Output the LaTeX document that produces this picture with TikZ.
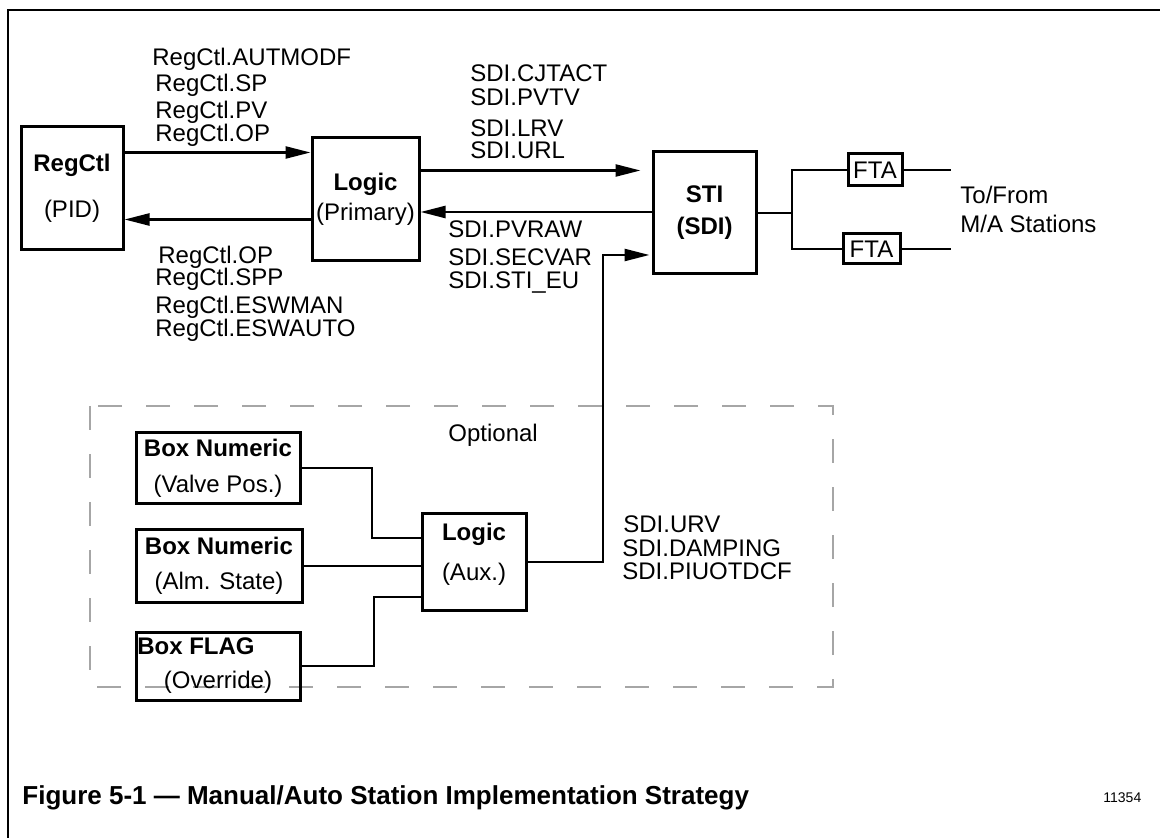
\documentclass[tikz,border=0pt]{standalone}
\usepackage{fontspec}
\setmainfont{Liberation Sans}
\usepackage{tikz}
\usetikzlibrary{positioning,arrows.meta}

\tikzset{
  blk/.style={draw, line width=1.5pt, inner sep=0pt, align=center,
    font=\fontsize{12}{14}\selectfont},
  sig/.style={draw, line width=1.2pt},
  tip/.style={-{Triangle[length=12.5pt,width=6pt]}},
  wire/.style={draw, line width=1pt},
  lbl/.style={anchor=base west, inner sep=0pt, font=\fontsize{12}{14}\selectfont},
}

\begin{document}
\begin{tikzpicture}[x=0.5pt, y=-0.5pt]
    \useasboundingbox (0,0) rectangle (1160,838);
    % frame
    \draw[line width=1.3pt] (8,838) -- (8,10) -- (1160,10);

    % main boxes
    \node[blk, minimum width=51pt, minimum height=61.5pt] (regctl) at (72,188.5)
      {\textbf{RegCtl}\\[9pt](PID)};
    \node[blk, minimum width=53.5pt, minimum height=61.5pt] (logic) at (365.5,199.5)
      {\textbf{Logic}\\[1pt](Primary)};
    \node[blk, minimum width=51.5pt, minimum height=61pt] (sti) at (704.5,213)
      {\textbf{STI}\\[2pt]\textbf{(SDI)}};
    \node[blk, minimum width=27pt, minimum height=16pt] (fta1) at (875,170) {FTA};
    \node[blk, minimum width=28.5pt, minimum height=15pt] (fta2) at (871.5,249) {FTA};

    % optional part
    \draw[gray!70, line width=1pt, dash pattern=on 12pt off 12pt] (90,406) rectangle (833,687);
    \node[blk, minimum width=52pt, minimum height=48pt] (aux) at (474,562)
      {\textbf{Logic}\\[6pt](Aux.)\\[-4pt]\mbox{}};
    \node[blk, minimum width=82pt, minimum height=35.5pt] (valve) at (218,468.5)
      {\textbf{Box Numeric}\\[4pt](Valve Pos.)};
    \node[blk, minimum width=83pt, minimum height=36pt] (alarm) at (219,566)
      {\textbf{Box Numeric}\\[3.5pt](Alm. State)};
    \node[blk, minimum width=82pt, minimum height=34pt] (flag) at (218,666)
      {\textbf{Box FLAG}\hspace*{22pt}\\[3pt](Override)};

    % signal names
    \node[lbl] (aut) at (152,66) {RegCtl.AUTMODF};
    \node[lbl] (sp) at (155,92) {RegCtl.SP};
    \node[lbl] (pv) at (155,119) {RegCtl.PV};
    \node[lbl] (op) at (155,142) {RegCtl.OP};
    \node[lbl] (opb) at (158,264) {RegCtl.OP};
    \node[lbl] (spp) at (155,286) {RegCtl.SPP};
    \node[lbl] (eswman) at (155,314) {RegCtl.ESWMAN};
    \node[lbl] (eswauto) at (155,337) {RegCtl.ESWAUTO};
    \node[lbl] (cjtact) at (470,82) {SDI.CJTACT};
    \node[lbl] (pvtv) at (470,106) {SDI.PVTV};
    \node[lbl] (lrv) at (470,137) {SDI.LRV};
    \node[lbl] (url) at (470,159) {SDI.URL};
    \node[lbl] (pvraw) at (448,238) {SDI.PVRAW};
    \node[lbl] (secvar) at (448,266) {SDI.SECVAR};
    \node[lbl] (stieu) at (448,289) {SDI.STI\_EU};
    \node[lbl] (urv) at (623,532) {SDI.URV};
    \node[lbl] (damping) at (622,557) {SDI.DAMPING};
    \node[lbl] (piuo) at (622,579) {SDI.PIUOTDCF};
    \node[lbl] (tofrom) at (960,204) {To/From};
    \node[lbl] (mastn) at (960,233) {M/A Stations};
    \node[lbl] (optional) at (448,442) {Optional};

    % caption
    \node[lbl, font=\fontsize{13}{15}\selectfont\bfseries] (caption) at (22,804)
      {Figure 5-1 --- Manual/Auto Station Implementation Strategy};
    \node[lbl, font=\fontsize{7}{8}\selectfont] (fignum) at (1103,802) {11354};

    % connections RegCtl <-> Logic
    \coordinate (r1) at ([yshift=-13.5pt]regctl.north east);
    \coordinate (l1) at ([yshift=-41.5pt]logic.north west);
    \draw[sig, tip] (r1) -- (r1 -| logic.west);
    \draw[sig, tip] (l1) -- (l1 -| regctl.east);

    % connections Logic <-> STI
    \coordinate (l2) at ([yshift=-17pt]logic.north east);
    \coordinate (s1) at ([yshift=0.5pt]sti.west);
    \coordinate (s2) at ([yshift=-21pt]sti.west);
    \coordinate (up) at (603,255);
    \draw[sig, tip, shorten >=5.5pt] (l2) -- (l2 -| sti.west);
    \draw[sig, tip] (s1) -- (s1 -| logic.east);
    \draw[sig, tip, shorten >=1pt] (aux.east) -| (up) -- (s2);

    % STI to the FTAs
    \coordinate (fork) at (792,213);
    \coordinate (o1) at (951,170);
    \coordinate (o2) at (951,249);
    \draw[sig] (sti.east) -- (fork);
    \draw[sig] (fork) |- (fta1.west);
    \draw[sig] (fork) |- (fta2.west);
    \draw[sig] (fta1.east) -- (o1);
    \draw[sig] (fta2.east) -- (o2);

    % inputs of the aux logic
    \coordinate (j1) at (372,538);
    \coordinate (j2) at (374,597);
    \draw[wire] (valve.east) -| (j1) -- (j1 -| aux.west);
    \draw[wire] (alarm.east) -- (alarm.east -| aux.west);
    \draw[wire] (flag.east) -| (j2) -- (j2 -| aux.west);
  \end{tikzpicture}
\end{document}
